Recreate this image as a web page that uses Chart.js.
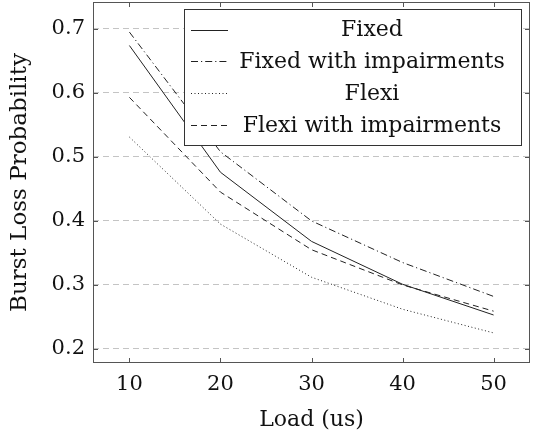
<!DOCTYPE html>
<html><head><meta charset="utf-8">
<script src="https://cdn.jsdelivr.net/npm/chart.js@4/dist/chart.umd.min.js"></script>
<style>html,body{margin:0;padding:0;background:#fff}#wrap{width:534px;height:437px}</style>
</head><body><div id="wrap"><canvas id="c" width="534" height="437"></canvas></div>
<script>
const loads = [10, 20, 30, 40, 50];
const fixed = [0.674, 0.476, 0.368, 0.301, 0.253];
const fixedImp = [0.695, 0.508, 0.400, 0.335, 0.282];
const flexi = [0.531, 0.395, 0.312, 0.262, 0.225];
const flexiImp = [0.593, 0.445, 0.355, 0.300, 0.259];
const seriesNames = ['Fixed', 'Fixed with impairments', 'Flexi', 'Flexi with impairments'];
const xTicks = [10, 20, 30, 40, 50];
const yTicks = [0.2, 0.3, 0.4, 0.5, 0.6, 0.7];

const FONT = "'DejaVu Serif', serif";
const TXT = '#111';
const dashes = [[], [7, 3, 1.2, 3], [1, 2.5], [6, 4]];
const allSeries = [fixed, fixedImp, flexi, flexiImp];
const datasets = allSeries.map((s, i) => ({
  label: seriesNames[i],
  data: s.map((v, j) => ({x: loads[j], y: v})),
  borderColor: '#222', borderWidth: 1, borderDash: dashes[i],
  pointRadius: 0, fill: false, tension: 0
}));

const framePlugin = {
  id: 'frame',
  afterDatasetsDraw(chart) {
    const {ctx, chartArea: a, scales: {x, y}} = chart;
    ctx.save();
    ctx.strokeStyle = '#555'; ctx.lineWidth = 1; ctx.setLineDash([]);
    ctx.strokeRect(a.left + 0.5, a.top + 0.5, a.right - a.left - 1, a.bottom - a.top - 1);
    ctx.beginPath();
    xTicks.forEach(t => { const px = Math.round(x.getPixelForValue(t)) + 0.5;
      ctx.moveTo(px, a.bottom); ctx.lineTo(px, a.bottom - 5);
      ctx.moveTo(px, a.top); ctx.lineTo(px, a.top + 5); });
    yTicks.forEach(t => { const py = Math.round(y.getPixelForValue(t)) + 0.5;
      ctx.moveTo(a.left, py); ctx.lineTo(a.left + 5, py);
      ctx.moveTo(a.right, py); ctx.lineTo(a.right - 5, py); });
    ctx.stroke();
    // legend
    const L = 184.5, T = 9.5, R = 521.5, B = 145.5;
    ctx.fillStyle = '#fff'; ctx.fillRect(L, T, R - L, B - T);
    ctx.strokeStyle = '#333'; ctx.strokeRect(L, T, R - L, B - T);
    ctx.font = '22px ' + FONT; ctx.fillStyle = TXT;
    ctx.textAlign = 'center'; ctx.textBaseline = 'middle';
    chart.data.datasets.forEach((d, i) => {
      const cy = T + 20 + i * 31.8;
      ctx.strokeStyle = d.borderColor; ctx.setLineDash(d.borderDash);
      ctx.beginPath(); ctx.moveTo(191, Math.round(cy) + 0.5); ctx.lineTo(228, Math.round(cy) + 0.5); ctx.stroke();
      ctx.setLineDash([]);
      ctx.fillText(d.label, 372, cy + 1);
    });
    ctx.restore();
  }
};

new Chart(document.getElementById('c'), {
  type: 'line',
  data: {datasets},
  options: {
    responsive: false, animation: false, devicePixelRatio: 1,
    layout: {padding: {top: 2, right: 4, left: 0, bottom: 0}},
    plugins: {legend: {display: false}, tooltip: {enabled: false}},
    scales: {
      x: {
        type: 'linear', min: 6, max: 54,
        afterBuildTicks: s => { s.ticks = xTicks.map(v => ({value: v})); },
        afterFit: s => { s.height = 74; s.paddingLeft = 0; s.paddingRight = 0; },
        grid: {display: false, drawTicks: false},
        border: {display: false},
        ticks: {color: TXT, font: {family: FONT, size: 21}, padding: 9, maxRotation: 0},
        title: {display: true, text: 'Load (us)', color: TXT, font: {family: FONT, size: 22}, padding: {top: 6}}
      },
      y: {
        type: 'linear', min: 0.178, max: 0.742,
        afterBuildTicks: s => { s.ticks = yTicks.map(v => ({value: v})); },
        afterFit: s => { s.width = 93; s.paddingTop = 0; s.paddingBottom = 0; },
        grid: {color: '#c4c4c4', drawTicks: false},
        border: {display: false, dash: [6, 4]},
        ticks: {color: TXT, font: {family: FONT, size: 21}, padding: 8, callback: v => v.toFixed(1)},
        title: {display: true, text: 'Burst Loss Probability', color: TXT, font: {family: FONT, size: 23}, padding: {top: 6, bottom: 4}}
      }
    }
  },
  plugins: [framePlugin]
});
</script></body></html>
